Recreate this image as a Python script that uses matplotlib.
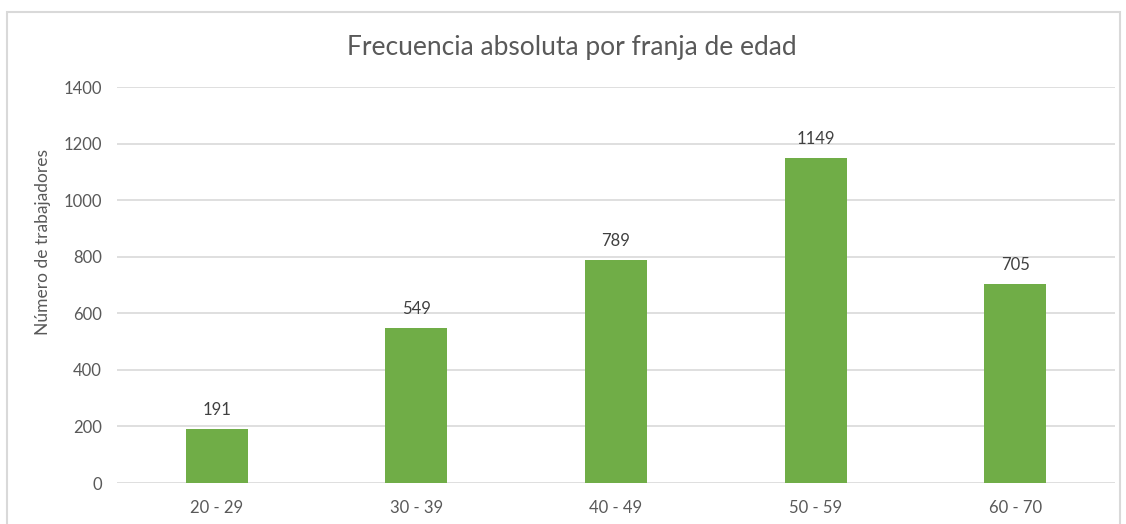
import matplotlib.pyplot as plt
from matplotlib.patches import Rectangle

# data
franjas = ['20 - 29', '30 - 39', '40 - 49', '50 - 59', '60 - 70']
trabajadores = [191, 549, 789, 1149, 705]

plt.rcParams['font.family'] = ['Lato', 'DejaVu Sans']

fig = plt.figure(figsize=(11.26, 5.24), dpi=100)
ax = fig.add_axes([117 / 1126, 1 - 483 / 524, 998 / 1126, 396 / 524])

# outer chart border (Excel style)
fig.patches.append(Rectangle((7 / 1126, -0.1), 1113 / 1126, 1.1 - 12 / 524,
                             transform=fig.transFigure, fill=False,
                             edgecolor='#d9d9d9', linewidth=1.5))

x = range(len(franjas))
bars = ax.bar(x, trabajadores, width=0.31, color='#70ad47', zorder=3)
for b, v in zip(bars, trabajadores):
    ax.text(b.get_x() + b.get_width() / 2, v + 38, str(v), ha='center', va='bottom',
            fontsize=12, color='#404040')

ax.set_xlim(-0.5, len(franjas) - 0.5)
ax.set_ylim(0, 1400)
ax.set_yticks(range(0, 1401, 200))
ax.set_xticks(list(x))
ax.set_xticklabels(franjas)
ax.tick_params(length=0, colors='#595959', labelsize=12)
ax.tick_params(axis='x', pad=12)
ax.tick_params(axis='y', pad=11)
ax.grid(axis='y', color='#d9d9d9', linewidth=1.2, zorder=0)
for s in ax.spines.values():
    s.set_visible(False)

fig.text(43 / 1126, 1 - 242 / 524, 'Número de trabajadores', rotation=90,
         ha='center', va='center', fontsize=12.5, color='#595959')
fig.text(572 / 1126, 1 - 47 / 524, 'Frecuencia absoluta por franja de edad',
         ha='center', va='center', fontsize=19, color='#595959')

fig.savefig('out.png', dpi=100)
